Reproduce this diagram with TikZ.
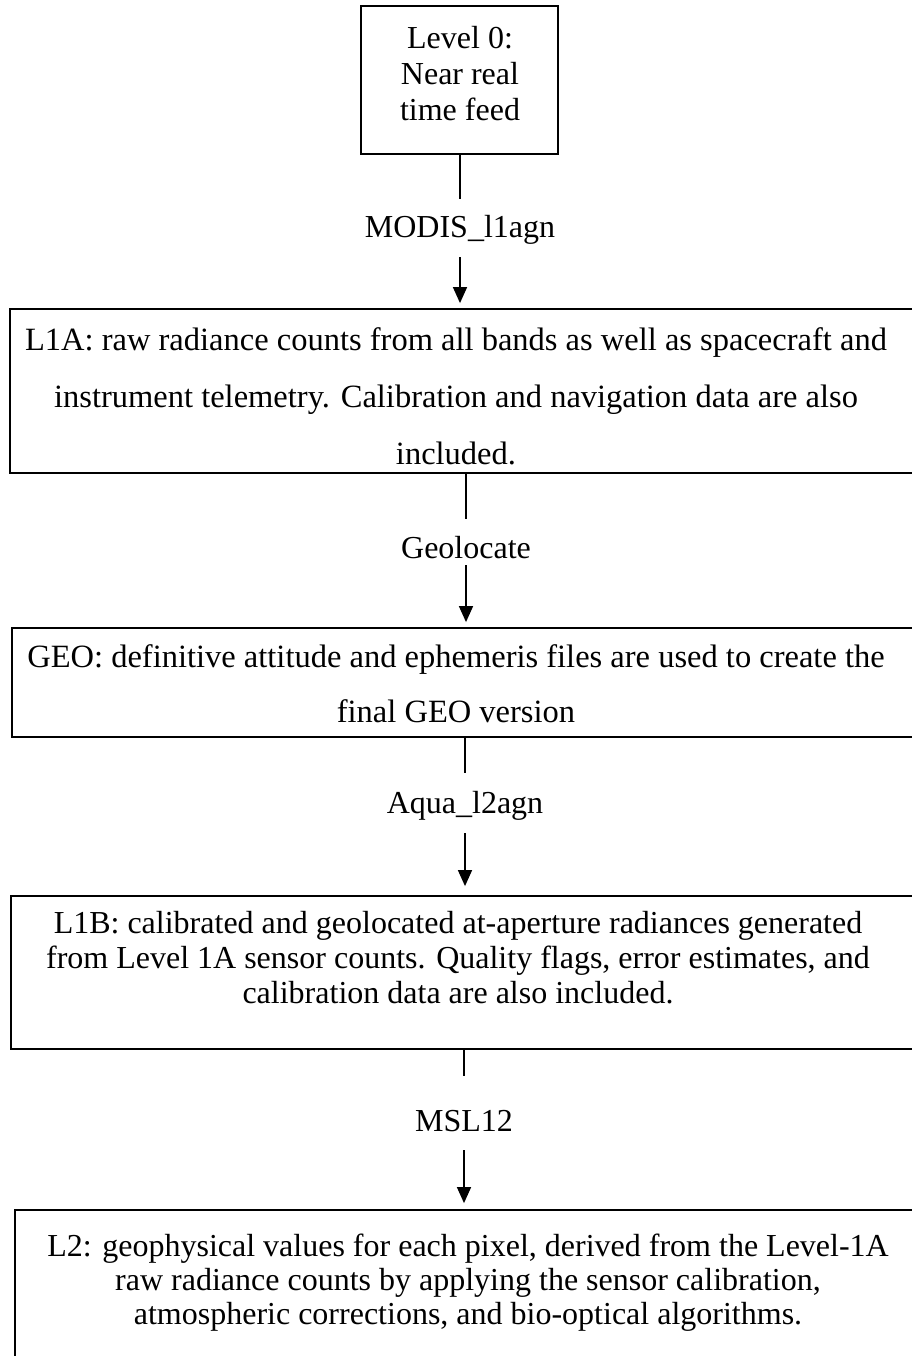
\documentclass[tikz,border=0pt]{standalone}
\usepackage{fontspec}
\setmainfont{Liberation Serif}
\usetikzlibrary{arrows.meta}
\begin{document}
\begin{tikzpicture}[x=1pt,y=-1pt,
  box/.style={draw, line width=1.8pt, rectangle, inner sep=0pt},
  txt/.style={align=center, inner sep=0pt, anchor=base},
  lbl/.style={inner sep=0pt, anchor=base, font=\fontsize{32}{36}\selectfont},
  conn/.style={line width=1.4pt},
  arr/.style={line width=1.4pt, -{Triangle[length=16pt,width=14pt]}}]
\useasboundingbox (0,0) rectangle (912,1356);
% boxes
\node[box, minimum width=197pt, minimum height=148pt] (b1) at (459.5,80) {};
\node[box, minimum width=925pt, minimum height=164pt] (b2) at (472.5,391) {};
\node[box, minimum width=923pt, minimum height=109pt] (b3) at (473.5,682.5) {};
\node[box, minimum width=924pt, minimum height=153pt] (b4) at (473,972.5) {};
\node[box, minimum width=920pt, minimum height=190pt] (b5) at (475,1305) {};
% texts (anchored at the baseline of the last line)
\node[txt, font=\fontsize{32}{36}\selectfont] (t1) at (460,121) {Level 0:\\Near real\\time feed};
\node[txt, font=\fontsize{32.5}{57}\selectfont] (t2) at (456,464) {L1A: raw radiance counts from all bands as well as spacecraft and\\instrument telemetry. Calibration and navigation data are also\\included.};
\node[txt, font=\fontsize{32.5}{55}\selectfont] (t3) at (456,722) {GEO: definitive attitude and ephemeris files are used to create the\\final GEO version};
\node[txt, font=\fontsize{32}{35}\selectfont] (t4) at (458,1003) {L1B: calibrated and geolocated at-aperture radiances generated\\from Level 1A sensor counts. Quality flags, error estimates, and\\calibration data are also included.};
\node[txt, font=\fontsize{32}{34}\selectfont] (t5) at (468,1324) {L2: geophysical values for each pixel, derived from the Level-1A\\raw radiance counts by applying the sensor calibration,\\atmospheric corrections, and bio-optical algorithms.};
% labels
\node[lbl, text height=38pt, text depth=20pt] (l1) at (460,237) {MODIS\_l1agn};
\node[lbl, text height=39pt, text depth=7pt] (l2) at (466,558) {Geolocate};
\node[lbl, text height=40pt, text depth=20pt] (l3) at (465,813) {Aqua\_l2agn};
\node[lbl, text height=55pt, text depth=19pt] (l4) at (464,1131) {MSL12};
% connectors
\draw[conn] (b1.south -| l1) -- (l1.north);
\draw[arr, shorten >=5pt] (l1.south) -- (b2.north -| l1);
\draw[conn] (b2.south -| l2) -- (l2.north);
\draw[arr, shorten >=5pt] (l2.south) -- (b3.north -| l2);
\draw[conn] (b3.south -| l3) -- (l3.north);
\draw[arr, shorten >=9pt] (l3.south) -- (b4.north -| l3);
\draw[conn] (b4.south -| l4) -- (l4.north);
\draw[arr, shorten >=6pt] (l4.south) -- (b5.north -| l4);
\end{tikzpicture}
\end{document}
